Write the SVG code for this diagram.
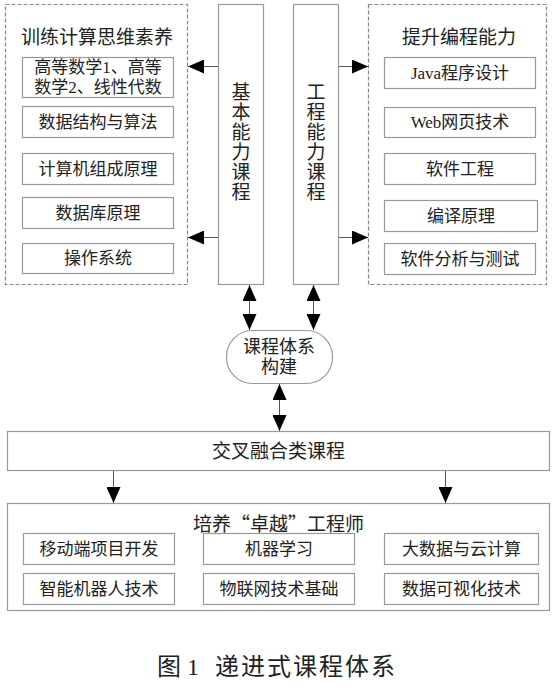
<svg xmlns="http://www.w3.org/2000/svg" width="555" height="690" viewBox="0 0 555 690">
<style>
text{font-family:"Liberation Serif","Noto Sans CJK SC",serif;fill:#222;text-anchor:middle;dominant-baseline:central}
.cjk{font-family:"Noto Sans CJK SC",sans-serif}
.box{fill:#fff;stroke:#999;stroke-width:1.2}
.dash{fill:#fff;stroke:#888;stroke-width:1.2;stroke-dasharray:4 2}
.t19{font-size:19px}
.t17{font-size:17px}
.t18{font-size:18px}
.con{stroke:#555;stroke-width:1;fill:none}
</style>
<defs>
<marker id="ah" viewBox="0 0 16 14" refX="16" refY="7" markerWidth="16" markerHeight="14" orient="auto-start-reverse" markerUnits="userSpaceOnUse">
<path d="M0,0 L16,7 L0,14 z" fill="#000"/>
</marker>
</defs>
<rect width="555" height="690" fill="#fff"/>

<g id="left-group">
<rect class="dash" x="5.5" y="4.5" width="182" height="280"/>
<text class="t19" x="97" y="37">训练计算思维素养</text>
<g id="l1"><rect class="box" x="22.5" y="57.5" width="151" height="40"/><text class="t17" x="98" y="67">高等数学1、高等</text><text class="t17" x="98" y="87">数学2、线性代数</text></g>
<g id="l2"><rect class="box" x="22.5" y="106.5" width="151" height="31"/><text class="t17" x="98" y="122">数据结构与算法</text></g>
<g id="l3"><rect class="box" x="22.5" y="153.5" width="151" height="31"/><text class="t17" x="98" y="169">计算机组成原理</text></g>
<g id="l4"><rect class="box" x="22.5" y="197.5" width="151" height="31"/><text class="t17" x="98" y="213">数据库原理</text></g>
<g id="l5"><rect class="box" x="22.5" y="243.5" width="151" height="30"/><text class="t17" x="98" y="258.5">操作系统</text></g>
</g>

<g id="right-group">
<rect class="dash" x="368.5" y="4.5" width="178" height="280"/>
<text class="t19" x="459" y="37">提升编程能力</text>
<g id="r1"><rect class="box" x="384.5" y="57.5" width="151" height="31"/><text class="t17" x="460" y="73">Java程序设计</text></g>
<g id="r2"><rect class="box" x="384.5" y="107.5" width="151" height="30"/><text class="t17" x="460" y="122.5">Web网页技术</text></g>
<g id="r3"><rect class="box" x="384.5" y="153.5" width="151" height="31"/><text class="t17" x="460" y="169">软件工程</text></g>
<g id="r4"><rect class="box" x="384.5" y="200.5" width="153" height="31"/><text class="t17" x="461" y="216">编译原理</text></g>
<g id="r5"><rect class="box" x="384.5" y="243.5" width="151" height="31"/><text class="t17" x="460" y="259">软件分析与测试</text></g>
</g>

<g id="basic">
<rect class="box" x="218.5" y="4.5" width="45" height="280"/>
<text class="t19"><tspan x="241" y="92">基</tspan><tspan x="241" y="112">本</tspan><tspan x="241" y="132">能</tspan><tspan x="241" y="152">力</tspan><tspan x="241" y="172">课</tspan><tspan x="241" y="192">程</tspan></text>
</g>
<g id="engineering">
<rect class="box" x="293.5" y="4.5" width="45" height="280"/>
<text class="t19"><tspan x="316" y="92">工</tspan><tspan x="316" y="112">程</tspan><tspan x="316" y="132">能</tspan><tspan x="316" y="152">力</tspan><tspan x="316" y="172">课</tspan><tspan x="316" y="192">程</tspan></text>
</g>

<g id="build">
<rect class="box" x="226.5" y="330.5" width="106" height="53" rx="26" ry="26"/>
<text class="t18" x="279" y="347">课程体系</text>
<text class="t18" x="279" y="367">构建</text>
</g>

<g id="cross">
<rect class="box" x="7.5" y="431.5" width="542" height="39"/>
<text class="t19" x="278.5" y="451">交叉融合类课程</text>
</g>

<g id="excellent">
<rect class="box" x="7.5" y="503.5" width="542" height="107"/>
<text class="t19 cjk" x="278.5" y="522">培养“卓越”工程师</text>
<g id="b1"><rect class="box" x="23.5" y="533.5" width="151" height="31"/><text class="t17" x="99" y="549">移动端项目开发</text></g>
<g id="b2"><rect class="box" x="203.5" y="533.5" width="151" height="31"/><text class="t17" x="279" y="549">机器学习</text></g>
<g id="b3"><rect class="box" x="384.5" y="533.5" width="154" height="31"/><text class="t17" x="461.5" y="549">大数据与云计算</text></g>
<g id="b4"><rect class="box" x="23.5" y="573.5" width="151" height="31"/><text class="t17" x="99" y="589">智能机器人技术</text></g>
<g id="b5"><rect class="box" x="203.5" y="573.5" width="151" height="31"/><text class="t17" x="279" y="589">物联网技术基础</text></g>
<g id="b6"><rect class="box" x="384.5" y="573.5" width="154" height="31"/><text class="t17" x="461.5" y="589">数据可视化技术</text></g>
</g>

<g id="connectors">
<line class="con" x1="218" y1="66.5" x2="188" y2="66.5" marker-end="url(#ah)"/>
<line class="con" x1="218" y1="237.5" x2="188" y2="237.5" marker-end="url(#ah)"/>
<line class="con" x1="339" y1="66.5" x2="368" y2="66.5" marker-end="url(#ah)"/>
<line class="con" x1="339" y1="237.5" x2="368" y2="237.5" marker-end="url(#ah)"/>
<line class="con" x1="249.5" y1="285" x2="249.5" y2="330" marker-start="url(#ah)" marker-end="url(#ah)"/>
<line class="con" x1="313.5" y1="285" x2="313.5" y2="330" marker-start="url(#ah)" marker-end="url(#ah)"/>
<line class="con" x1="279.5" y1="384" x2="279.5" y2="431" marker-start="url(#ah)" marker-end="url(#ah)"/>
<line class="con" x1="113.5" y1="471" x2="113.5" y2="503" marker-end="url(#ah)"/>
<line class="con" x1="445.5" y1="471" x2="445.5" y2="503" marker-end="url(#ah)"/>
</g>

<text style="font-size:24px;text-anchor:start" x="157" y="667">图<tspan x="187">1</tspan><tspan x="215" style="letter-spacing:2px">递进式课程体系</tspan></text>
</svg>
